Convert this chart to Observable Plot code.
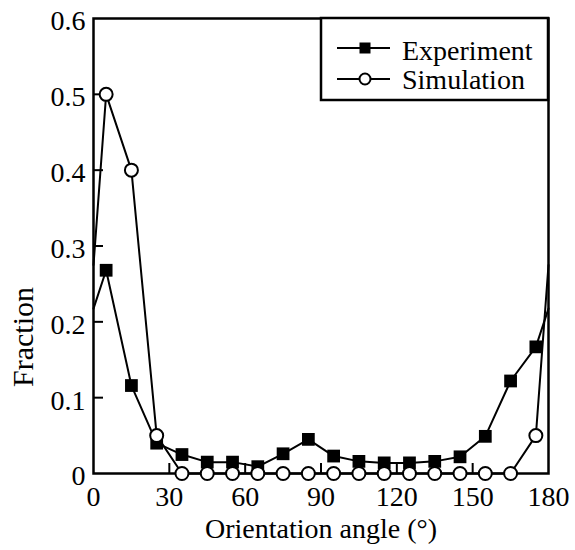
<!DOCTYPE html>
<html><head><meta charset="utf-8">
<script src="https://cdn.jsdelivr.net/npm/d3@7"></script>
<script src="https://cdn.jsdelivr.net/npm/@observablehq/plot@0.6"></script>
<style>
body{margin:0;background:#fff;}
#wrap{position:relative;width:575px;height:550px;}
#legend{position:absolute;left:0;top:0;pointer-events:none;}
</style></head><body><div id="wrap"></div>
<script>
const angles = [0, 5, 15, 25, 35, 45, 55, 65, 75, 85, 95, 105, 115, 125, 135, 145, 155, 165, 175, 180];
const experiment = [0.2175, 0.268, 0.116, 0.040, 0.025, 0.015, 0.015, 0.009, 0.026, 0.045, 0.023, 0.016, 0.014, 0.014, 0.016, 0.022, 0.049, 0.122, 0.167, 0.2175];
const simulation = [0.275, 0.5, 0.4, 0.05, 0, 0, 0, 0, 0, 0, 0, 0, 0, 0, 0, 0, 0, 0, 0.05, 0.275];
const seriesNames = ["Experiment", "Simulation"];
const xTicks = [0, 30, 60, 90, 120, 150, 180];
const xTickLabels = ["0", "30", "60", "90", "120", "150", "180"];
const yTicks = [0, 0.1, 0.2, 0.3, 0.4, 0.5, 0.6];
const yTickLabels = ["0", "0.1", "0.2", "0.3", "0.4", "0.5", "0.6"];
const xLabel = "Orientation angle (°)";
const yLabel = "Fraction";

const font = "'Liberation Serif','Times New Roman',serif";
const data = angles.map((a, i) => ({angle: a, exp: experiment[i], sim: simulation[i]}));
const markers = data.slice(1, -1);

const plot = Plot.plot({
  width: 575, height: 550,
  marginLeft: 93, marginRight: 27, marginTop: 18, marginBottom: 77,
  style: {fontFamily: font, fontSize: "28px", color: "black", background: "white"},
  x: {domain: [0, 180]},
  y: {domain: [0, 0.6]},
  marks: [
    Plot.axisY(yTicks.slice(1, -1), {tickSize: -10, tickFormat: () => "", strokeWidth: 2, label: null}),
    Plot.axisX(xTicks.slice(1, -1), {tickSize: -10, tickFormat: () => "", strokeWidth: 2, label: null}),
    Plot.axisY(yTicks, {tickSize: 0, tickPadding: 8, dy: 3, fontSize: 28, label: null,
      tickFormat: d => yTickLabels[yTicks.indexOf(d)]}),
    Plot.axisX(xTicks, {tickSize: 0, tickPadding: 13, fontSize: 28, label: null,
      tickFormat: d => xTickLabels[xTicks.indexOf(d)]}),
    Plot.frame({stroke: "black", strokeWidth: 2.5}),
    Plot.line(data, {x: "angle", y: "exp", stroke: "black", strokeWidth: 2}),
    Plot.line(data, {x: "angle", y: "sim", stroke: "black", strokeWidth: 2}),
    Plot.dot(markers, {x: "angle", y: "exp", symbol: "square", r: 7.2, fill: "black", stroke: "none"}),
    Plot.dot(markers, {x: "angle", y: "sim", symbol: "circle", r: 6.5, fill: "white", stroke: "black", strokeWidth: 2}),
    Plot.text([xLabel], {text: d => d, frameAnchor: "bottom", textAnchor: "middle", dy: 64, lineAnchor: "bottom", fontSize: 28}),
    Plot.text([yLabel], {text: d => d, frameAnchor: "left", textAnchor: "middle", lineAnchor: "middle", rotate: -90, dx: -70, dy: 91, fontSize: 30})
  ]
});
document.getElementById("wrap").appendChild(plot);

// legend overlay
const ns = "http://www.w3.org/2000/svg";
const lg = document.createElementNS(ns, "svg");
lg.setAttribute("id", "legend");
lg.setAttribute("width", 575);
lg.setAttribute("height", 550);
function el(tag, attrs, parent) {
  const e = document.createElementNS(ns, tag);
  for (const k in attrs) e.setAttribute(k, attrs[k]);
  (parent || lg).appendChild(e);
  return e;
}
el("rect", {x: 321, y: 18, width: 227, height: 82, fill: "white", stroke: "black", "stroke-width": 2.5});
const rows = [{y: 48, ty: 60}, {y: 79, ty: 89}];
rows.forEach((r, i) => {
  el("line", {x1: 337, x2: 390, y1: r.y, y2: r.y, stroke: "black", "stroke-width": 2});
  if (i === 0) el("rect", {x: 365 - 5.5, y: r.y - 5.5, width: 11, height: 11, fill: "black"});
  else el("circle", {cx: 365, cy: r.y, r: 5.5, fill: "white", stroke: "black", "stroke-width": 2});
  const t = el("text", {x: 402, y: r.ty, "font-family": font, "font-size": 28, fill: "black"});
  t.textContent = seriesNames[i];
});
document.getElementById("wrap").appendChild(lg);
</script></body></html>
